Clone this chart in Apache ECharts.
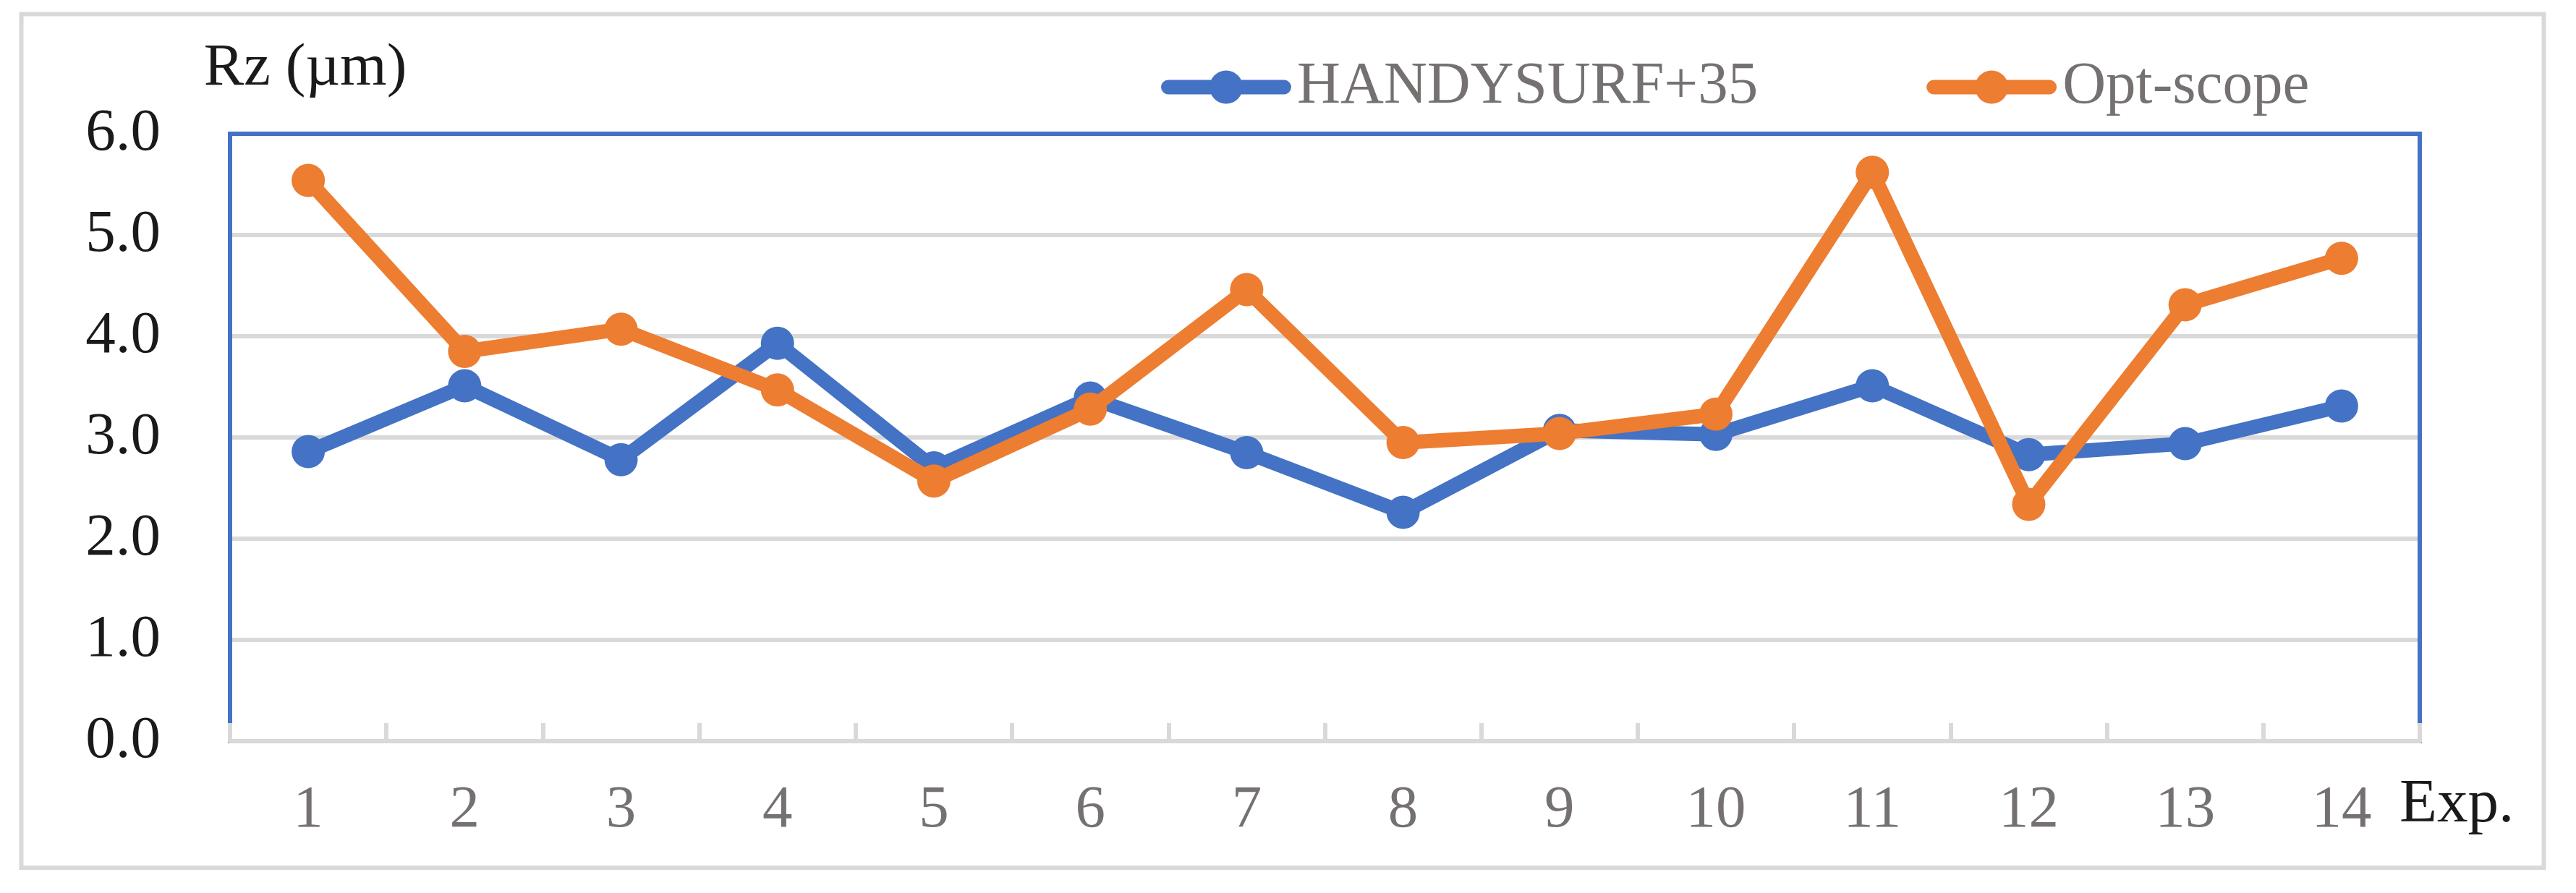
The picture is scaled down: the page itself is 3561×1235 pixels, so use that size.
<!DOCTYPE html>
<html>
<head>
<meta charset="utf-8">
<script src="https://cdn.jsdelivr.net/npm/echarts@6/dist/echarts.min.js"></script>
<style>
  html, body { margin: 0; padding: 0; background: #ffffff; }
  #chart { width: 3561px; height: 1235px; }
</style>
</head>
<body>
<div id="chart"></div>
<script>
const categories = ['1', '2', '3', '4', '5', '6', '7', '8', '9', '10', '11', '12', '13', '14'];
const handysurf = [2.86, 3.51, 2.78, 3.93, 2.70, 3.39, 2.85, 2.26, 3.07, 3.03, 3.51, 2.83, 2.94, 3.31];
const optScope = [5.54, 3.85, 4.07, 3.47, 2.57, 3.28, 4.46, 2.95, 3.04, 3.23, 5.62, 2.34, 4.31, 4.77];
const seriesNames = ['HANDYSURF+35', 'Opt-scope'];
const yTicks = { min: 0, max: 6, interval: 1 };

const FONT = '"Liberation Serif", "Times New Roman", serif';
const FS = 83;

const chart = echarts.init(document.getElementById('chart'), null, { renderer: 'canvas' });
chart.setOption({
  backgroundColor: '#ffffff',
  animation: false,
  graphic: [{
    type: 'rect',
    z: 0,
    shape: { x: 29.5, y: 19.5, width: 3487, height: 1180.5 },
    style: { fill: 'none', stroke: '#d9d9d9', lineWidth: 6 }
  }],
  grid: {
    show: true,
    z: 5,
    left: 318, right: 216, top: 185, bottom: 210,
    borderColor: '#4472C4', borderWidth: 6,
    backgroundColor: 'transparent',
    containLabel: false
  },
  legend: {
    data: seriesNames,
    left: 1605, top: 79,
    padding: 0,
    itemWidth: 160, itemHeight: 57.5,
    itemGap: 233,
    lineStyle: { width: 20, cap: 'round' },
    textStyle: { fontFamily: FONT, fontSize: FS, color: '#767171', padding: [0, 0, 0, 13] }
  },
  xAxis: {
    type: 'category',
    data: categories,
    boundaryGap: true,
    z: 6,
    name: 'Exp.',
    nameLocation: 'end',
    nameGap: -28,
    nameTextStyle: { fontFamily: FONT, fontSize: 85, color: '#1a1a1a', align: 'left', verticalAlign: 'top', padding: [46, 0, 0, 0] },
    axisLine: { show: true, lineStyle: { color: '#d9d9d9', width: 6 } },
    axisTick: { show: true, inside: true, length: 25, alignWithLabel: false, lineStyle: { color: '#d9d9d9', width: 6 } },
    axisLabel: { margin: 55, fontFamily: FONT, fontSize: FS, color: '#767171' },
    splitLine: { show: false }
  },
  yAxis: {
    type: 'value',
    min: yTicks.min, max: yTicks.max, interval: yTicks.interval,
    name: 'Rz (µm)',
    nameLocation: 'end',
    nameGap: 90,
    nameTextStyle: { fontFamily: FONT, fontSize: FS, color: '#1a1a1a', align: 'center', verticalAlign: 'middle', padding: [0, 0, 0, 208] },
    axisLine: { show: false },
    axisTick: { show: false },
    axisLabel: { margin: 96, fontFamily: FONT, fontSize: FS, color: '#1a1a1a', formatter: v => v.toFixed(1) },
    splitLine: { show: true, lineStyle: { color: '#d9d9d9', width: 6 } }
  },
  series: [
    {
      name: seriesNames[0],
      type: 'line',
      data: handysurf,
      symbol: 'circle',
      symbolSize: 46,
      itemStyle: { color: '#4472C4' },
      lineStyle: { color: '#4472C4', width: 20, cap: 'round', join: 'round' },
      z: 2
    },
    {
      name: seriesNames[1],
      type: 'line',
      data: optScope,
      symbol: 'circle',
      symbolSize: 46,
      itemStyle: { color: '#ED7D31' },
      lineStyle: { color: '#ED7D31', width: 20, cap: 'round', join: 'round' },
      z: 3
    }
  ]
});
</script>
</body>
</html>
